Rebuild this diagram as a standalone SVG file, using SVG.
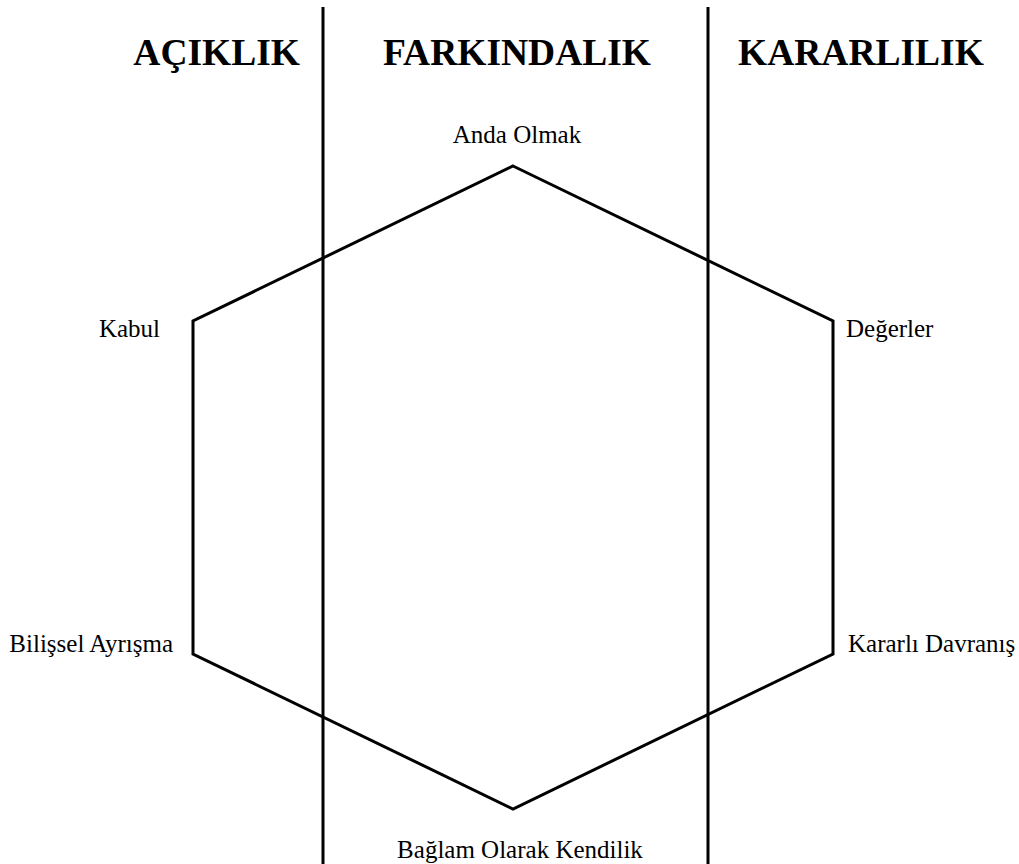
<svg xmlns="http://www.w3.org/2000/svg" width="1019" height="864" viewBox="0 0 1019 864">
<style>
.h{font-family:"Liberation Serif","Times New Roman",serif;font-weight:bold;font-size:37.5px;fill:#000}
.l{font-family:"Liberation Serif","Times New Roman",serif;font-size:25px;fill:#000}
.s{stroke:#000;stroke-width:3;fill:none}
</style>
<rect width="1019" height="864" fill="#fff"/>
<g id="connectors">
<line class="s" x1="323" y1="7" x2="323" y2="864"/>
<line class="s" x1="708" y1="7" x2="708" y2="864"/>
<polygon class="s" points="513,166 833,321 833,654 513,809 193,654 193,321" stroke-linejoin="miter"/>
</g>
<g id="headings">
<text class="h" x="300" y="65" text-anchor="end">AÇIKLIK</text>
<text class="h" x="517" y="65" text-anchor="middle">FARKINDALIK</text>
<text class="h" x="738" y="65">KARARLILIK</text>
</g>
<g id="node-anda"><text class="l" x="517" y="143" text-anchor="middle">Anda Olmak</text></g>
<g id="node-kabul"><text class="l" x="160" y="337" text-anchor="end">Kabul</text></g>
<g id="node-degerler"><text class="l" x="846" y="337">Değerler</text></g>
<g id="node-bilissel"><text class="l" x="173" y="652" text-anchor="end">Bilişsel Ayrışma</text></g>
<g id="node-kararli"><text class="l" x="848" y="652">Kararlı Davranış</text></g>
<g id="node-baglam"><text class="l" x="520" y="858" text-anchor="middle">Bağlam Olarak Kendilik</text></g>
</svg>
